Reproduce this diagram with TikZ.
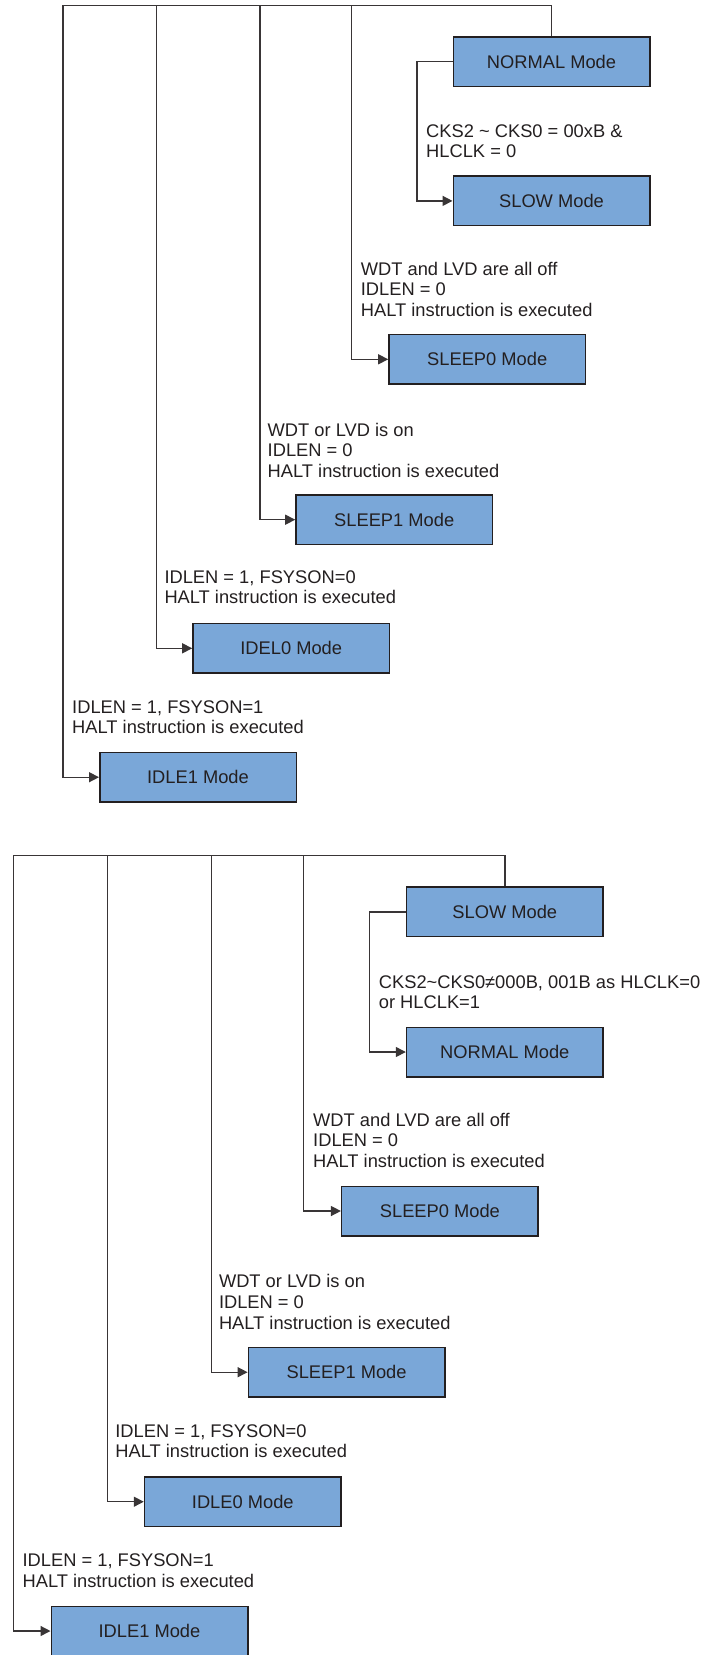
\documentclass[tikz,border=0pt]{standalone}
\usepackage{fontspec}
\setmainfont{Liberation Sans}
\usetikzlibrary{arrows.meta}
\definecolor{boxfill}{RGB}{122,167,216}
\definecolor{ink}{RGB}{35,31,32}
\begin{document}
\begin{tikzpicture}[x=1pt,y=-1pt,
  modebox/.style={draw=ink, fill=boxfill, line width=1.5pt, minimum width=196.5pt, minimum height=49.5pt, inner sep=0pt, font=\fontsize{18.3}{20.6}\selectfont, text=ink},
  conn/.style={draw=ink!90, line width=1.4pt},
  arr/.style={conn, -{Triangle[length=10pt,width=10pt]}},
  cond/.style={anchor=north west, inner sep=0pt, align=left, font=\fontsize{18.3}{20.6}\selectfont, text=ink}]
\useasboundingbox (0,0) rectangle (704,1655);
% ---------- diagram 1 ----------
\node[modebox] (n1) at (551.5,61.5) {NORMAL Mode};
\node[modebox] (s1) at (551.5,200.9) {SLOW Mode};
\node[modebox] (p1) at (487.2,359.3) {SLEEP0 Mode};
\node[modebox] (q1) at (394.2,519.7) {SLEEP1 Mode};
\node[modebox] (i1) at (291.2,648.3) {IDEL0 Mode};
\node[modebox] (j1) at (198,777.2) {IDLE1 Mode};
\coordinate (t1a) at (63,5.7);
\coordinate (t1b) at (156.7,5.7);
\coordinate (t1c) at (259.8,5.7);
\coordinate (t1d) at (351.3,5.7);
\coordinate (l1) at (417,61.5);
\draw[arr] (n1.north) |- (t1a) |- (j1.west);
\draw[arr] (t1b) |- (i1.west);
\draw[arr] (t1c) |- (q1.west);
\draw[arr] (t1d) |- (p1.west);
\draw[arr] (n1.west) -- (l1) |- (s1.west);
\node[cond] (c1) at (426,124.1) {CKS2 \textasciitilde{} CKS0 = 00xB \&\\HLCLK = 0};
\node[cond] (c2) at (360.7,261.7) {WDT and LVD are all off\\IDLEN = 0\\HALT instruction is executed};
\node[cond] (c3) at (267.5,422.7) {WDT or LVD is on\\IDLEN = 0\\HALT instruction is executed};
\node[cond] (c4) at (164.3,570.1) {IDLEN = 1, FSYSON=0\\HALT instruction is executed};
\node[cond] (c5) at (72,700.1) {IDLEN = 1, FSYSON=1\\HALT instruction is executed};
% ---------- diagram 2 ----------
\node[modebox] (s2) at (504.8,911.8) {SLOW Mode};
\node[modebox] (n2) at (504.8,1052) {NORMAL Mode};
\node[modebox] (p2) at (439.9,1211) {SLEEP0 Mode};
\node[modebox] (q2) at (346.6,1372.2) {SLEEP1 Mode};
\node[modebox] (i2) at (242.8,1501.7) {IDLE0 Mode};
\node[modebox] (j2) at (149.5,1631) {IDLE1 Mode};
\coordinate (t2a) at (13.5,855.3);
\coordinate (t2b) at (107.7,855.3);
\coordinate (t2c) at (211.7,855.3);
\coordinate (t2d) at (303.2,855.3);
\coordinate (l2) at (369.4,911.8);
\draw[arr] (s2.north) |- (t2a) |- (j2.west);
\draw[arr] (t2b) |- (i2.west);
\draw[arr] (t2c) |- (q2.west);
\draw[arr] (t2d) |- (p2.west);
\draw[arr] (s2.west) -- (l2) |- (n2.west);
\node[cond] (c6) at (378.7,975.1) {CKS2\textasciitilde CKS0≠000B, 001B as HLCLK=0\\or HLCLK=1};
\node[cond] (c7) at (313,1112.7) {WDT and LVD are all off\\IDLEN = 0\\HALT instruction is executed};
\node[cond] (c8) at (218.8,1274.4) {WDT or LVD is on\\IDLEN = 0\\HALT instruction is executed};
\node[cond] (c9) at (115.2,1424.1) {IDLEN = 1, FSYSON=0\\HALT instruction is executed};
\node[cond] (c10) at (22.4,1553.7) {IDLEN = 1, FSYSON=1\\HALT instruction is executed};
\end{tikzpicture}
\end{document}
